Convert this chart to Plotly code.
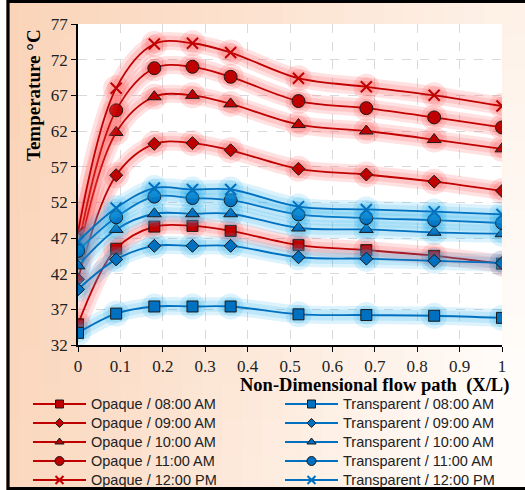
import plotly.graph_objects as go

# Non-dimensional positions along the flow path
x_pos = [0, 0.09, 0.18, 0.27, 0.36, 0.52, 0.68, 0.84, 1.0]

# Opaque collector temperatures (°C)
opaque_0800 = [34.9, 45.5, 48.6, 48.7, 48.0, 46.0, 45.3, 44.5, 43.4]
opaque_0900 = [41.2, 55.8, 60.2, 60.3, 59.3, 56.7, 55.9, 54.9, 53.6]
opaque_1000 = [44.4, 61.8, 66.8, 67.0, 65.8, 62.9, 62.0, 60.8, 59.5]
opaque_1100 = [45.6, 64.9, 70.8, 71.0, 69.6, 66.2, 65.2, 63.9, 62.5]
opaque_1200 = [47.8, 68.0, 74.2, 74.3, 73.0, 69.4, 68.2, 67.0, 65.5]

# Transparent collector temperatures (°C)
transp_0800 = [33.7, 36.4, 37.4, 37.4, 37.4, 36.3, 36.2, 36.1, 35.8]
transp_0900 = [39.8, 44.0, 45.9, 45.9, 45.9, 44.3, 44.1, 43.8, 43.5]
transp_1000 = [43.1, 48.2, 50.4, 50.4, 50.4, 48.4, 48.2, 47.8, 47.6]
transp_1100 = [45.2, 49.9, 52.8, 52.6, 52.3, 50.3, 49.8, 49.5, 49.1]
transp_1200 = [46.5, 51.2, 54.0, 53.8, 53.8, 51.4, 51.0, 50.7, 50.3]

times = ["08:00 AM", "09:00 AM", "10:00 AM", "11:00 AM", "12:00 PM"]
symbols = ["square", "diamond", "triangle-up", "circle", "x-thin"]
marker_sizes = [11, 10, 12, 13, 11]
legend_marker_sizes = [8, 7, 8, 9, 8]

y_ticks = [32, 37, 42, 47, 52, 57, 62, 67, 72, 77]
x_ticks = [0, 0.1, 0.2, 0.3, 0.4, 0.5, 0.6, 0.7, 0.8, 0.9, 1]

W, H = 525, 490
ML, MR, MT, MB = 78, 23, 24, 145
PW, PH = W - ML - MR, H - MT - MB


def px(x):
    return (x - ML) / PW


def py(y):
    return (H - MB - y) / PH


RED = "#c00000"
BLUE = "#0070c0"
RED_GLOW = "rgba(255,70,70,0.16)"
BLUE_GLOW = "rgba(40,175,235,0.16)"

fig = go.Figure()

groups = [
    ("Opaque", [opaque_0800, opaque_0900, opaque_1000, opaque_1100, opaque_1200],
     RED, RED_GLOW, "legend"),
    ("Transparent", [transp_0800, transp_0900, transp_1000, transp_1100, transp_1200],
     BLUE, BLUE_GLOW, "legend2"),
]

for label, series, color, glow, leg in groups:
    for t, ys, sym, ms, lms in zip(times, series, symbols, marker_sizes, legend_marker_sizes):
        is_x = sym.startswith("x")
        # soft glow built from stacked translucent strokes
        for w, s in [(18, 26), (11, 19)]:
            fig.add_trace(go.Scatter(
                x=x_pos, y=ys, mode="lines+markers",
                line=dict(color=glow, width=w, shape="spline", smoothing=1),
                marker=dict(color=glow, size=s, symbol="circle", line=dict(width=0)),
                showlegend=False, hoverinfo="skip",
            ))
        fig.add_trace(go.Scatter(
            x=x_pos, y=ys, mode="lines+markers",
            name=f"{label} / {t}", showlegend=False,
            line=dict(color=color, width=1.8, shape="spline", smoothing=1),
            marker=dict(
                symbol=sym, size=ms, color=color,
                line=dict(color=color if is_x else "#1a1a1a", width=2 if is_x else 1),
            ),
        ))
        # legend entry with the smaller legend glyph
        fig.add_trace(go.Scatter(
            x=[None], y=[None], mode="lines+markers", legend=leg,
            name=f"<span style='font-size:14.5px'>{label} / {t}</span>",
            line=dict(color=color, width=2),
            marker=dict(
                symbol=sym, size=lms, color=color,
                line=dict(color=color if is_x else "#1a1a1a", width=2 if is_x else 1),
            ),
        ))

# background: peach gradient over the paper, white plot area
shapes = []
NX, NY = 26, 14
c0 = (250, 211, 183)
c1 = (255, 252, 249)
for i in range(NX):
    for j in range(NY):
        fx = (i + 0.5) / NX
        fy = (j + 0.5) / NY
        f = min(1.0, 0.75 * fx + 0.3 * fy * fx + 0.08 * fy)
        col = tuple(round(a + (b - a) * f) for a, b in zip(c0, c1))
        x0p, x1p = i * W / NX, (i + 1) * W / NX
        y0p, y1p = j * H / NY, (j + 1) * H / NY
        shapes.append(dict(
            type="rect", xref="paper", yref="paper", layer="below",
            x0=px(x0p), x1=px(x1p + 0.6), y0=py(y0p), y1=py(y1p + 0.6),
            fillcolor="rgb(%d,%d,%d)" % col, line=dict(width=0),
        ))
shapes.append(dict(
    type="rect", xref="paper", yref="paper", layer="below",
    x0=0, x1=1, y0=0, y1=1, fillcolor="white", line=dict(width=0),
))
shapes.append(dict(
    type="rect", xref="paper", yref="paper", layer="below",
    x0=px(-5), x1=px(6), y0=py(-5), y1=py(495), fillcolor="white", line=dict(width=0),
))
# outer frame
shapes.append(dict(
    type="rect", xref="paper", yref="paper", layer="above",
    x0=px(8), x1=px(540), y0=py(1.5), y1=py(488.6),
    line=dict(color="black", width=3.2), fillcolor="rgba(0,0,0,0)",
))

serif = "Liberation Serif"
sans = "Liberation Sans"

legend_common = dict(
    yanchor="top", xanchor="left", bgcolor="rgba(0,0,0,0)",
    font=dict(family=sans, size=12, color="#222"),
    itemwidth=53, tracegroupgap=0, itemsizing="trace",
)

fig.update_layout(
    width=W, height=H,
    margin=dict(l=ML, r=MR, t=MT, b=MB, autoexpand=False),
    paper_bgcolor="white", plot_bgcolor="white",
    shapes=shapes,
    xaxis=dict(
        range=[0, 1], tickvals=x_ticks, ticktext=[f"{v:g}" for v in x_ticks],
        showline=True, linecolor="black", linewidth=1.5,
        ticks="outside", ticklen=5, tickcolor="black", tickwidth=1.2,
        showgrid=True, gridcolor="#d9d9d9", griddash="dash", gridwidth=1,
        zeroline=False, tickfont=dict(family=serif, size=17, color="#222"),
    ),
    yaxis=dict(
        range=[32, 77], tickvals=y_ticks,
        showline=True, linecolor="black", linewidth=1.5,
        ticks="outside", ticklen=5, tickcolor="black", tickwidth=1.2,
        showgrid=True, gridcolor="#d9d9d9", griddash="dash", gridwidth=1,
        zeroline=False, tickfont=dict(family=serif, size=17, color="#222"),
    ),
    legend=dict(x=px(28), y=py(389.5), **legend_common),
    legend2=dict(x=px(280), y=py(389.5), **legend_common),
    annotations=[
        dict(text="<b>Non-Dimensional flow path  (X/L)</b>", xref="paper", yref="paper",
             x=px(374), y=py(385.5), xanchor="center", yanchor="middle", showarrow=False,
             font=dict(family=serif, size=18.5, color="black")),
        dict(text="<b>Temperature °C</b>", xref="paper", yref="paper",
             x=px(33), y=py(95), xanchor="center", yanchor="middle", showarrow=False,
             textangle=-90, font=dict(family=serif, size=19, color="black")),
    ],
)

fig.write_html("out.html")
